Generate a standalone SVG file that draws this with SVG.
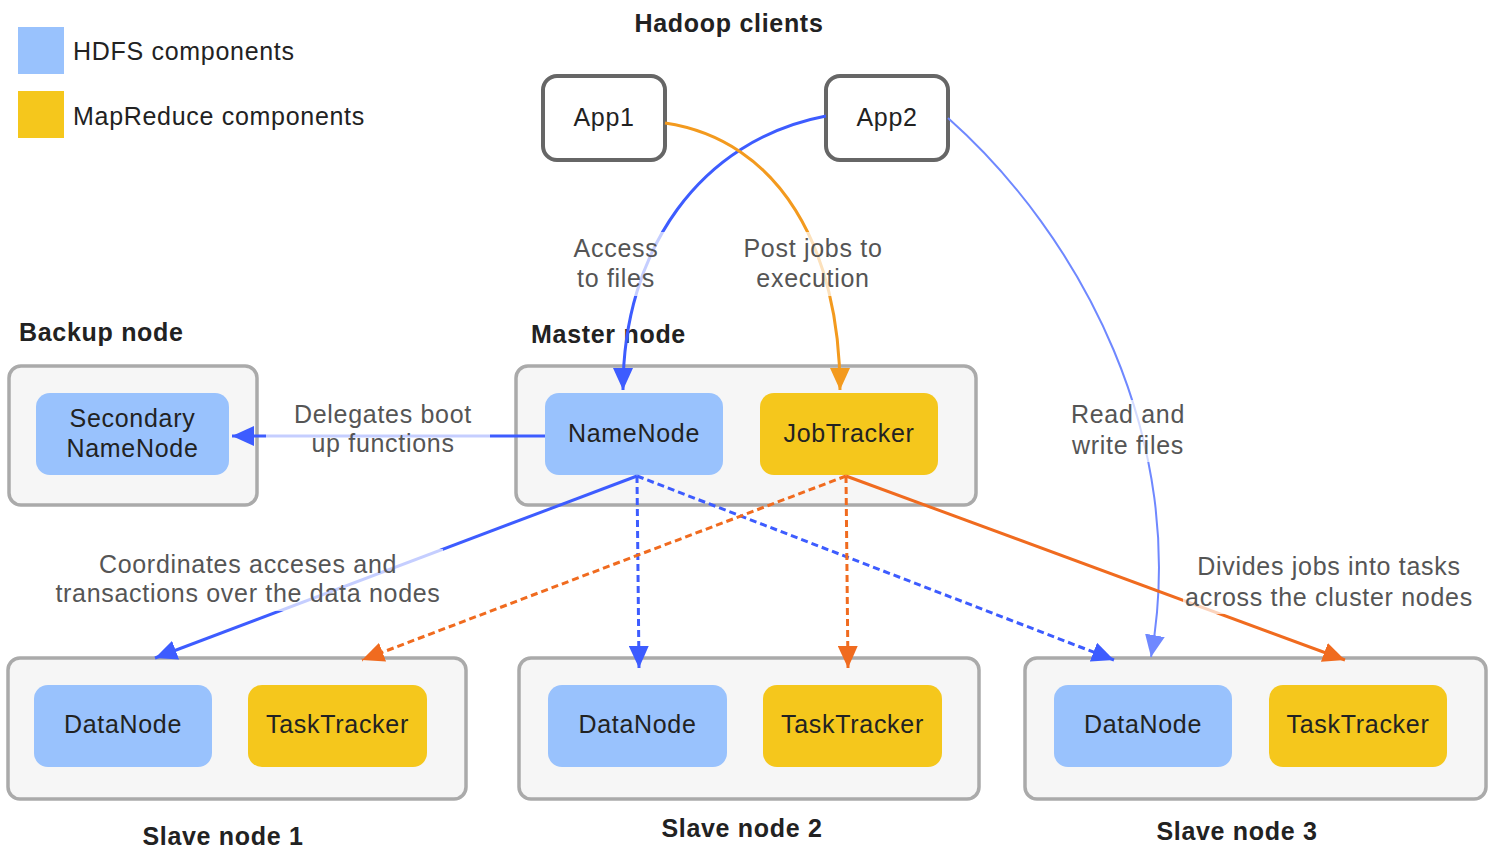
<svg xmlns="http://www.w3.org/2000/svg" width="1492" height="858" viewBox="0 0 1492 858">
<defs>
<style>
text{font-family:"Liberation Sans",Arial,sans-serif;font-size:25px;letter-spacing:0.7px}
.t{fill:#222}
.b{font-weight:bold;fill:#222}
.lbl{fill:#555;text-anchor:middle}
.m{text-anchor:middle}
.cont{fill:#f6f6f6;stroke:#aaa;stroke-width:3.5}
.app{fill:#fff;stroke:#666;stroke-width:4}
.hdfs{fill:#99c2fd}
.mr{fill:#f5c71c}
.bl{fill:none;stroke:#3d5cff;stroke-width:3}
.or{fill:none;stroke:#f06b1f;stroke-width:3}
.dash{stroke-dasharray:7 4}
.bg{fill:#fff;fill-opacity:0.7}
</style>
<marker id="ab" markerUnits="userSpaceOnUse" viewBox="0 0 22 20" refX="22" refY="10" markerWidth="22" markerHeight="20" orient="auto"><path d="M0,0 L22,10 L0,20 Z" fill="#3d5cff"/></marker>
<marker id="abl" markerUnits="userSpaceOnUse" viewBox="0 0 22 20" refX="22" refY="10" markerWidth="22" markerHeight="20" orient="auto"><path d="M0,0 L22,10 L0,20 Z" fill="#6f88ff"/></marker>
<marker id="ao" markerUnits="userSpaceOnUse" viewBox="0 0 22 20" refX="22" refY="10" markerWidth="22" markerHeight="20" orient="auto"><path d="M0,0 L22,10 L0,20 Z" fill="#f06b1f"/></marker>
<marker id="ay" markerUnits="userSpaceOnUse" viewBox="0 0 22 20" refX="22" refY="10" markerWidth="22" markerHeight="20" orient="auto"><path d="M0,0 L22,10 L0,20 Z" fill="#f39a1e"/></marker>
</defs>
<rect width="1492" height="858" fill="#fff"/>

<g id="legend">
<rect x="18" y="27" width="46" height="47" fill="#99c2fd"/>
<text class="t" x="73" y="60">HDFS components</text>
<rect x="18" y="91" width="46" height="47" fill="#f5c71c"/>
<text class="t" x="73" y="125">MapReduce components</text>
</g>

<g id="titles">
<text class="b m" x="729" y="32">Hadoop clients</text>
<text class="b" x="19" y="341">Backup node</text>
<text class="b" x="531" y="343">Master node</text>
<text class="b m" x="223" y="845">Slave node 1</text>
<text class="b m" x="742" y="837">Slave node 2</text>
<text class="b m" x="1237" y="840">Slave node 3</text>
</g>

<g id="app1"><rect class="app" x="543" y="76" width="122" height="84" rx="14"/><text class="t m" x="604" y="126">App1</text></g>
<g id="app2"><rect class="app" x="826" y="76" width="122" height="84" rx="14"/><text class="t m" x="887" y="126">App2</text></g>

<g id="backup"><rect class="cont" x="9" y="366" width="248" height="139" rx="12"/></g>
<g id="secondary-namenode"><rect class="hdfs" x="36" y="393" width="193" height="82" rx="14"/><text class="t m" x="132.5" y="427">Secondary</text><text class="t m" x="132.5" y="457">NameNode</text></g>

<g id="master"><rect class="cont" x="516" y="366" width="460" height="139" rx="12"/></g>
<g id="namenode"><rect class="hdfs" x="545" y="393" width="178" height="82" rx="14"/><text class="t m" x="634" y="442">NameNode</text></g>
<g id="jobtracker"><rect class="mr" x="760" y="393" width="178" height="82" rx="14"/><text class="t m" x="849" y="442">JobTracker</text></g>

<g id="slave1"><rect class="cont" x="8" y="658" width="458" height="141" rx="12"/></g>
<g id="datanode1"><rect class="hdfs" x="34" y="685" width="178" height="82" rx="14"/><text class="t m" x="123" y="733">DataNode</text></g>
<g id="tasktracker1"><rect class="mr" x="248" y="685" width="179" height="82" rx="14"/><text class="t m" x="337.5" y="733">TaskTracker</text></g>

<g id="slave2"><rect class="cont" x="519" y="658" width="460" height="141" rx="12"/></g>
<g id="datanode2"><rect class="hdfs" x="548" y="685" width="179" height="82" rx="14"/><text class="t m" x="637.5" y="733">DataNode</text></g>
<g id="tasktracker2"><rect class="mr" x="763" y="685" width="179" height="82" rx="14"/><text class="t m" x="852.5" y="733">TaskTracker</text></g>

<g id="slave3"><rect class="cont" x="1025" y="658" width="461" height="141" rx="12"/></g>
<g id="datanode3"><rect class="hdfs" x="1054" y="685" width="178" height="82" rx="14"/><text class="t m" x="1143" y="733">DataNode</text></g>
<g id="tasktracker3"><rect class="mr" x="1269" y="685" width="178" height="82" rx="14"/><text class="t m" x="1358" y="733">TaskTracker</text></g>

<g id="connectors">
<path class="bl" d="M826,116 C700,140 623,250 623,390" marker-end="url(#ab)"/>
<path fill="none" stroke="#f39a1e" stroke-width="3" d="M665,123 C780,140 840,250 840,390" marker-end="url(#ay)"/>
<path fill="none" stroke="#6f88ff" stroke-width="2" d="M948,118 C1080,235 1190,440 1151,657" marker-end="url(#abl)"/>
<path class="bl" d="M545,436 L232,436" marker-end="url(#ab)"/>
<path class="bl" d="M637,476 L155,658" marker-end="url(#ab)"/>
<path class="bl dash" d="M637,476 L639,668" marker-end="url(#ab)"/>
<path class="bl dash" d="M637,476 L1114,660" marker-end="url(#ab)"/>
<path class="or dash" d="M846,476 L362,660" marker-end="url(#ao)"/>
<path class="or dash" d="M846,476 L848,668" marker-end="url(#ao)"/>
<path class="or" d="M846,476 L1345,660" marker-end="url(#ao)"/>
</g>

<g id="labels">
<rect class="bg" x="565" y="232" width="102" height="64"/>
<text class="lbl" x="616" y="257">Access</text><text class="lbl" x="616" y="287">to files</text>
<rect class="bg" x="738" y="232" width="152" height="64"/>
<text class="lbl" x="813" y="257">Post jobs to</text><text class="lbl" x="813" y="287">execution</text>
<rect class="bg" x="266" y="402" width="224" height="58"/>
<text class="lbl" x="383" y="423">Delegates boot</text><text class="lbl" x="383" y="452">up functions</text>
<rect class="bg" x="55" y="549" width="388" height="62"/>
<text class="lbl" x="248" y="573">Coordinates acceses and</text><text class="lbl" x="248" y="602">transactions over the data nodes</text>
<rect class="bg" x="1065" y="400" width="126" height="62"/>
<text class="lbl" x="1128" y="423">Read and</text><text class="lbl" x="1128" y="454">write files</text>
<rect class="bg" x="1183" y="552" width="294" height="62"/>
<text class="lbl" x="1329" y="575">Divides jobs into tasks</text><text class="lbl" x="1329" y="606">across the cluster nodes</text>
</g>
</svg>
